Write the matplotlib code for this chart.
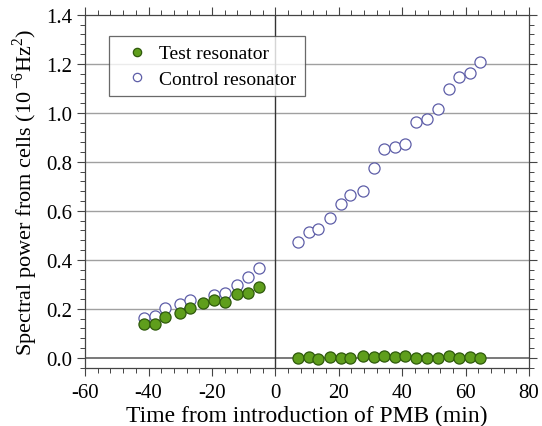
import matplotlib
matplotlib.use("Agg")
import matplotlib.pyplot as plt
from matplotlib.ticker import MultipleLocator

plt.rcParams['font.family'] = ['Liberation Serif', 'DejaVu Serif']
plt.rcParams['mathtext.fontset'] = 'custom'
plt.rcParams['mathtext.rm'] = 'Liberation Serif'
plt.rcParams['axes.unicode_minus'] = False

# Test resonator (filled green)
test_x = [-41.5, -38.0, -34.8, -30.0, -26.9, -22.7, -19.5, -16.0, -12.0, -8.6, -5.3,
          7.1, 10.5, 13.4, 17.1, 20.6, 23.7, 27.8, 31.1, 34.2, 37.6, 40.9, 44.4, 47.9,
          51.4, 54.7, 57.8, 61.4, 64.7]
test_y = [0.137, 0.140, 0.165, 0.185, 0.204, 0.224, 0.237, 0.227, 0.261, 0.264, 0.288,
          -0.001, 0.003, -0.004, 0.005, 0.000, 0.001, 0.007, 0.005, 0.007, 0.005, 0.007,
          0.001, 0.001, -0.001, 0.007, 0.000, 0.005, -0.001]

# Control resonator (open circles)
ctrl_x = [-41.5, -37.9, -34.8, -30.0, -27.0, -19.5, -16.0, -12.0, -8.6, -5.3,
          7.1, 10.5, 13.4, 17.1, 20.6, 23.7, 27.8, 31.1, 34.2, 37.6, 40.9, 44.4, 47.9,
          51.4, 54.7, 57.8, 61.4, 64.7]
ctrl_y = [0.162, 0.170, 0.203, 0.220, 0.237, 0.257, 0.265, 0.298, 0.329, 0.365,
          0.472, 0.513, 0.527, 0.570, 0.626, 0.665, 0.680, 0.774, 0.853, 0.860, 0.873,
          0.962, 0.973, 1.016, 1.098, 1.148, 1.163, 1.209]

fig = plt.figure(figsize=(5.42, 4.27), dpi=100)
ax = fig.add_axes([0.157, 0.136, 0.819, 0.827])

for yv in [0.2, 0.4, 0.6, 0.8, 1.0, 1.2]:
    ax.axhline(yv, color='#a0a0a0', lw=1.0, zorder=0)
ax.axhline(0.0, color='#555555', lw=1.1, zorder=0)
ax.axvline(0.0, color='#333333', lw=1.0, zorder=0)

ax.plot(ctrl_x, ctrl_y, 'o', ms=8, mfc='white', mec='#5e5ea8', mew=0.9,
        label='Control resonator', zorder=2)
ax.plot(test_x, test_y, 'o', ms=8, mfc='#5f9e1c', mec='#2f5a0c', mew=0.9,
        label='Test resonator', zorder=3)

ax.set_xlim(-60, 80)
ax.set_ylim(-0.041, 1.4)
ax.xaxis.set_major_locator(MultipleLocator(20))
ax.xaxis.set_minor_locator(MultipleLocator(4))
ax.yaxis.set_major_locator(MultipleLocator(0.2))
ax.yaxis.set_minor_locator(MultipleLocator(0.04))
ax.yaxis.set_major_formatter(matplotlib.ticker.FormatStrFormatter('%.1f'))

ax.tick_params(which='both', top=True, right=True, labelsize=15, color='#444444')
ax.tick_params(which='major', length=6, width=0.8)
ax.tick_params(which='minor', length=3.5, width=0.7)
ax.tick_params(axis='x', which='both', direction='out', pad=5)
ax.tick_params(axis='y', which='both', direction='out', pad=3)
for s in ax.spines.values():
    s.set_color('#444444')
    s.set_linewidth(0.9)

ax.set_xlabel('Time from introduction of PMB (min)', fontsize=17, labelpad=2)
ax.set_ylabel('Spectral power from cells (10$^{\\,\\mathrm{-}6}$Hz$^{2}$)', fontsize=16, labelpad=5)

h, l = ax.get_legend_handles_labels()
leg = ax.legend([h[1], h[0]], [l[1], l[0]], loc='upper left',
                bbox_to_anchor=(0.054, 0.94), fontsize=14, frameon=True,
                fancybox=False, edgecolor='#444444', markerscale=0.75,
                handlelength=1.98, handletextpad=0.15, borderpad=0.45,
                labelspacing=0.4, borderaxespad=0)
leg.get_frame().set_linewidth(0.9)

fig.savefig('out.png', dpi=100)
